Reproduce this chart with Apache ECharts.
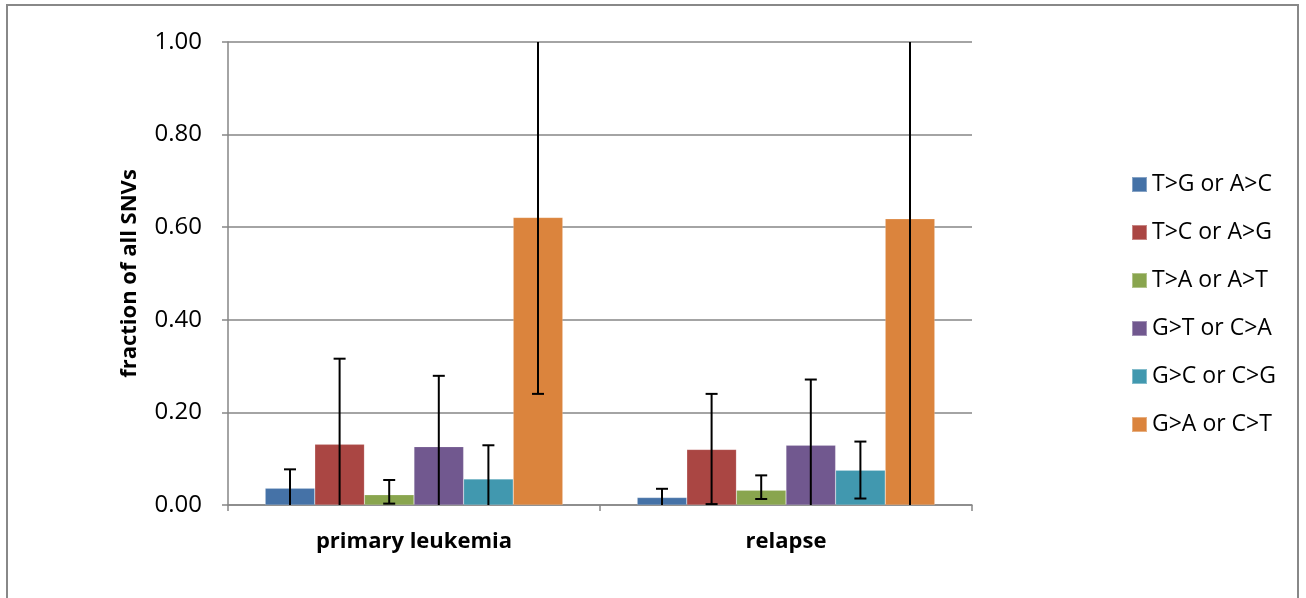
<!DOCTYPE html>
<html>
<head>
<meta charset="utf-8">
<script src="https://cdn.jsdelivr.net/npm/echarts@6/dist/echarts.min.js"></script>
<style>
html,body{margin:0;padding:0;background:#fff;}
#chart{width:1306px;height:598px;}
</style>
</head>
<body>
<div id="chart"></div>
<script>
var categories = ['primary leukemia', 'relapse'];
var seriesNames = ['T>G or A>C', 'T>C or A>G', 'T>A or A>T', 'G>T or C>A', 'G>C or C>G', 'G>A or C>T'];
var colors = ['#4572A7', '#AA4643', '#89A54E', '#71588F', '#4198AF', '#DB843D'];
// values per series: [primary leukemia, relapse]
var values = [
  [0.036, 0.016],
  [0.131, 0.120],
  [0.022, 0.032],
  [0.126, 0.129],
  [0.056, 0.075],
  [0.621, 0.618]
];
// error bar ends (0 or 1 = clipped at axis, no cap)
var errLow = [
  [0, 0],
  [0, 0.002],
  [0.003, 0.013],
  [0, 0],
  [0, 0.014],
  [0.240, 0]
];
var errHigh = [
  [0.077, 0.035],
  [0.316, 0.240],
  [0.054, 0.064],
  [0.279, 0.271],
  [0.129, 0.137],
  [1, 1]
];
var yTicks = ['0.00', '0.20', '0.40', '0.60', '0.80', '1.00'];

var FONT = '"Open Sans", Lato, sans-serif';
var nS = seriesNames.length;
var catGap = 0.2;

var series = [];
seriesNames.forEach(function (name, i) {
  series.push({
    name: name,
    type: 'bar',
    data: values[i],
    barGap: '0%',
    barCategoryGap: '20%',
    itemStyle: { color: colors[i], borderColor: 'rgba(255,255,255,0.35)', borderWidth: 0.5 },
    z: 2
  });
});
seriesNames.forEach(function (name, i) {
  var d = categories.map(function (c, k) { return [k, errLow[i][k], errHigh[i][k]]; });
  series.push({
    type: 'custom',
    name: name + ' err',
    data: d,
    z: 5,
    silent: true,
    encode: { x: 0, y: [1, 2] },
    renderItem: function (params, api) {
      var k = api.value(0);
      var lo = api.value(1), hi = api.value(2);
      var c = api.coord([k, 0]);
      var cw = api.size([1, 0])[0];
      var bw = cw * (1 - catGap) / nS;
      var x = c[0] - cw * (1 - catGap) / 2 + bw * (i + 0.5);
      var yLo = api.coord([k, lo])[1];
      var yHi = api.coord([k, hi])[1];
      var st = { stroke: '#000', lineWidth: 2 };
      var ch = [{ type: 'line', shape: { x1: x, y1: yLo, x2: x, y2: yHi }, style: st }];
      var hw = 6;
      if (lo > 0 && lo < 1) ch.push({ type: 'line', shape: { x1: x - hw, y1: yLo, x2: x + hw, y2: yLo }, style: st });
      if (hi > 0 && hi < 1) ch.push({ type: 'line', shape: { x1: x - hw, y1: yHi, x2: x + hw, y2: yHi }, style: st });
      return { type: 'group', children: ch };
    }
  });
});

var chart = echarts.init(document.getElementById('chart'), null, { renderer: 'canvas' });
chart.setOption({
  animation: false,
  backgroundColor: '#fff',
  graphic: [{
    type: 'rect',
    shape: { x: 7, y: 5, width: 1291, height: 620 },
    style: { fill: 'none', stroke: '#888', lineWidth: 2 },
    silent: true
  }],
  grid: { left: 228, right: 334, top: 42, bottom: 93, containLabel: false },
  legend: {
    orient: 'vertical',
    left: 1126,
    top: 168,
    itemWidth: 15,
    itemHeight: 15,
    itemGap: 25,
    icon: 'rect',
    data: seriesNames,
    textStyle: { fontFamily: FONT, fontSize: 23, color: '#000' }
  },
  xAxis: {
    type: 'category',
    data: categories,
    axisLine: { lineStyle: { color: '#868686', width: 1.5 } },
    axisTick: { show: true, alignWithLabel: false, length: 6, lineStyle: { color: '#868686', width: 1.5 } },
    axisLabel: { fontFamily: FONT, fontSize: 22, fontWeight: 'bold', color: '#000', margin: 26 }
  },
  yAxis: {
    type: 'value',
    min: 0, max: 1, interval: 0.2,
    name: 'fraction of all SNVs',
    nameLocation: 'middle',
    nameGap: 87,
    nameTextStyle: { fontFamily: FONT, fontSize: 22, fontWeight: 'bold', color: '#000' },
    axisLine: { show: true, lineStyle: { color: '#868686', width: 1.5 } },
    axisTick: { show: true, length: 6, lineStyle: { color: '#868686', width: 1.5 } },
    axisLabel: {
      fontFamily: FONT, fontSize: 24, color: '#000', margin: 26,
      formatter: function (v) { return yTicks[Math.round(v / 0.2)]; }
    },
    splitLine: { show: true, lineStyle: { color: '#868686', width: 1.5 } }
  },
  series: series
});
</script>
</body>
</html>
